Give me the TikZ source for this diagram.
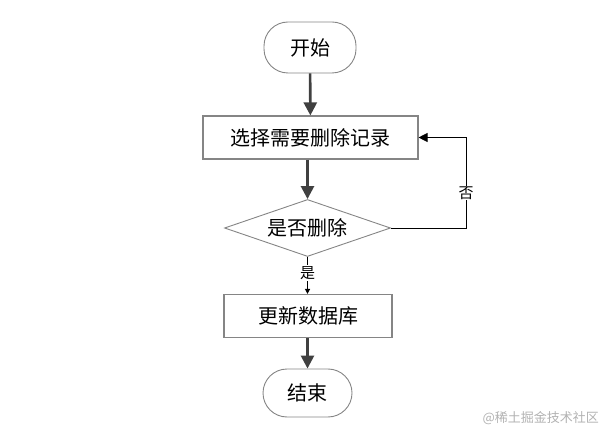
\documentclass[tikz,border=0pt]{standalone}
\usepackage{fontspec}
\newfontfamily\cjk{Noto Sans CJK SC}
\usetikzlibrary{arrows.meta,shapes.geometric}
\definecolor{boxgray}{HTML}{858585}
\definecolor{arrgray}{HTML}{404040}
\begin{document}
\begin{tikzpicture}[x=1pt,y=-1pt,
  term/.style={draw=boxgray,line width=0.9pt,rounded corners=24pt,minimum width=92pt,minimum height=51pt,inner sep=0pt,font=\cjk\fontsize{20}{23}\selectfont},
  procbox/.style={draw=boxgray,line width=1.1pt,minimum height=43pt,inner sep=0pt,font=\cjk\fontsize{20}{23}\selectfont},
  decis/.style={draw=boxgray,line width=0.9pt,diamond,aspect=2.9,minimum width=166pt,minimum height=57pt,inner sep=0pt,font=\cjk\fontsize{20}{23}\selectfont},
  thickarr/.style={draw=arrgray,line width=2.6pt,-{Triangle[length=13pt,width=13pt]}},
  thinarr/.style={draw=black,line width=0.8pt},
  lbl/.style={fill=white,inner sep=1pt,font=\cjk\fontsize{15}{17}\selectfont}]
\useasboundingbox (0,0) rectangle (607,435);
\node[term] (start) at (310,47.5) {开始};
\node[procbox,minimum width=215pt] (select) at (310.5,137.5) {选择需要删除记录};
\node[decis] (q) at (307.5,228) {是否删除};
\node[procbox,minimum width=168pt] (update) at (308,316) {更新数据库};
\node[term,minimum width=89pt,minimum height=48pt] (end) at (307.5,393) {结束};
\coordinate (c1) at (466,228);
\coordinate (c2) at (466,137.5);
\draw[thickarr] (start) -- (select);
\draw[thickarr] (select.south -| q.north) -- (q.north);
\draw[thickarr] (update.south -| end.north) -- (end.north);
\draw[thinarr,-{Triangle[length=9pt,width=9pt]}] (q.east) -- (c1) -- (c2) -- (select.east);
\draw[thinarr,line width=1.2pt,-{Triangle[length=5pt,width=5pt]}] (q.south) -- (update.north -| q.south);
\node[lbl] (no) at (466,193) {否};
\node[lbl] (yes) at (307.5,273) {是};
\node[font=\cjk\fontsize{13}{15}\selectfont,text=black!30,anchor=east,inner sep=0pt] (wm) at (599,418) {@稀土掘金技术社区};
\end{tikzpicture}
\end{document}
